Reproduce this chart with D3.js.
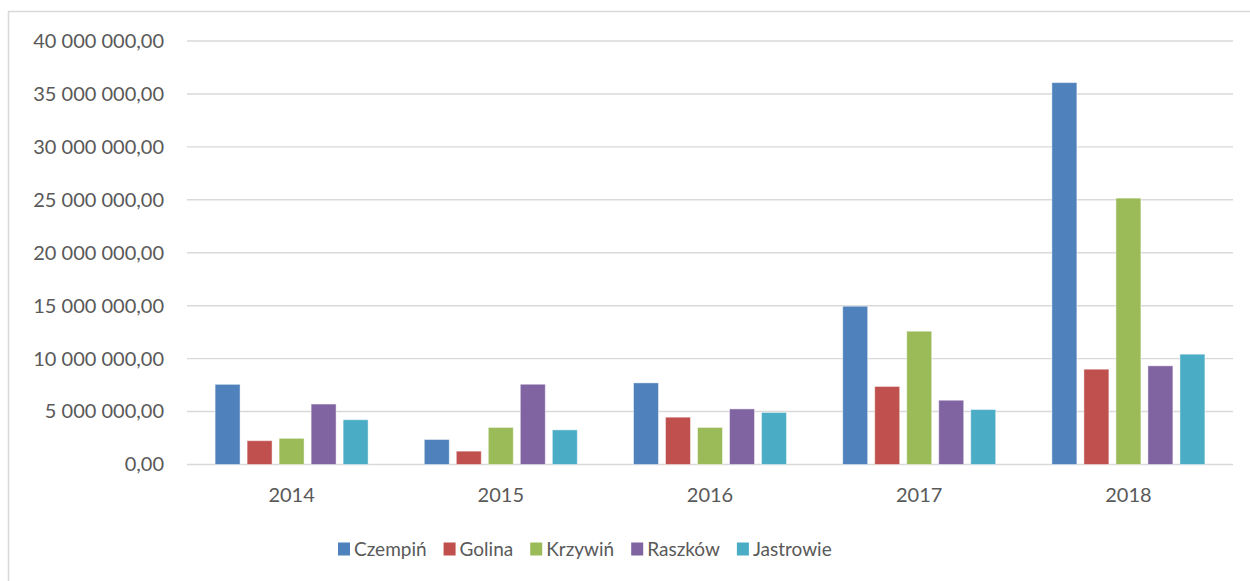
<!DOCTYPE html>
<html><head><meta charset="utf-8">
<script src="https://cdn.jsdelivr.net/npm/d3@7"></script>
<style>
html,body{margin:0;padding:0;background:#fff;}
svg{display:block;font-family:Lato, "Open Sans", sans-serif;}
</style></head>
<body>
<svg id="chart" width="1250" height="581"></svg>
<script>
const years = ["2014","2015","2016","2017","2018"];
const seriesNames = ["Czempiń","Golina","Krzywiń","Raszków","Jastrowie"];
const colors = ["#4F81BD","#C0504D","#9BBB59","#8064A2","#4BACC6"];
const czempin   = [7570000, 2360000, 7710000, 14950000, 36070000];
const golina    = [2250000, 1260000, 4470000, 7370000, 9000000];
const krzywin   = [2470000, 3500000, 3500000, 12590000, 25160000];
const raszkow   = [5710000, 7580000, 5250000, 6070000, 9320000];
const jastrowie = [4230000, 3270000, 4910000, 5190000, 10420000];
const yTicks = [0,5000000,10000000,15000000,20000000,25000000,30000000,35000000,40000000];

const values = [czempin, golina, krzywin, raszkow, jastrowie];
const svg = d3.select("#chart");

// chart border
svg.append("rect").attr("x",8.5).attr("y",11.5).attr("width",1260).attr("height",600)
  .attr("fill","none").attr("stroke","#D9D9D9").attr("stroke-width",1.5);

const mLeft = 187, mRight = 1233, mTop = 41, mBottom = 464.5;
const x0 = d3.scaleBand().domain(years).range([mLeft,mRight]).paddingInner(0).paddingOuter(0);
const groupFrac = 0.765;
const x1 = d3.scaleBand().domain(seriesNames)
  .range([x0.bandwidth()*(1-groupFrac)/2, x0.bandwidth()*(1+groupFrac)/2])
  .paddingInner(0.22).paddingOuter(0.11);
const y = d3.scaleLinear().domain([0,40000000]).range([mBottom, mTop]);

const fmt = v => {
  const s = d3.format(",.2f")(v);
  return s.replace(/,/g," ").replace(".",",");
};

// gridlines
svg.append("g").selectAll("line").data(yTicks).join("line")
  .attr("x1",mLeft).attr("x2",mRight)
  .attr("y1",d=>y(d)).attr("y2",d=>y(d))
  .attr("stroke","#D9D9D9").attr("stroke-width",1.4);

// y axis labels
const yAxis = d3.axisLeft(y).tickValues(yTicks).tickFormat(fmt).tickSize(0).tickPadding(23);
const gy = svg.append("g").attr("transform",`translate(${mLeft},0)`).call(yAxis);
gy.select(".domain").remove();
gy.selectAll("text").attr("fill","#595959").style("font-size","20px").style("font-family","Lato");

// bars
const groups = svg.append("g").selectAll("g").data(years).join("g")
  .attr("transform",d=>`translate(${x0(d)},0)`);
groups.selectAll("rect").data((yr,i)=>seriesNames.map((s,j)=>({s, j, v: values[j][i]})))
  .join("rect")
  .attr("x",d=>x1(d.s)).attr("width",x1.bandwidth())
  .attr("y",d=>y(d.v)).attr("height",d=>mBottom - y(d.v))
  .attr("fill",d=>colors[d.j])
  .attr("stroke","#ffffff").attr("stroke-opacity",0.45).attr("stroke-width",1);

// x axis labels
const xAxis = d3.axisBottom(x0).tickSize(0).tickPadding(23);
const gx = svg.append("g").attr("transform",`translate(0,${mBottom})`).call(xAxis);
gx.select(".domain").remove();
gx.selectAll("text").attr("fill","#595959").style("font-size","20px").style("font-family","Lato");

// legend
const legend = svg.append("g");
let lx = 338;
const ly = 549;
seriesNames.forEach((n,j)=>{
  legend.append("rect").attr("x",lx).attr("y",ly-6.5).attr("width",12).attr("height",13).attr("fill",colors[j]);
  const t = legend.append("text").attr("x",lx+16).attr("y",ly).attr("dy","0.35em")
    .attr("fill","#595959").style("font-size","19px").style("font-family","Lato").text(n);
  lx += 16 + t.node().getComputedTextLength() + 17;
});
</script>
</body></html>
